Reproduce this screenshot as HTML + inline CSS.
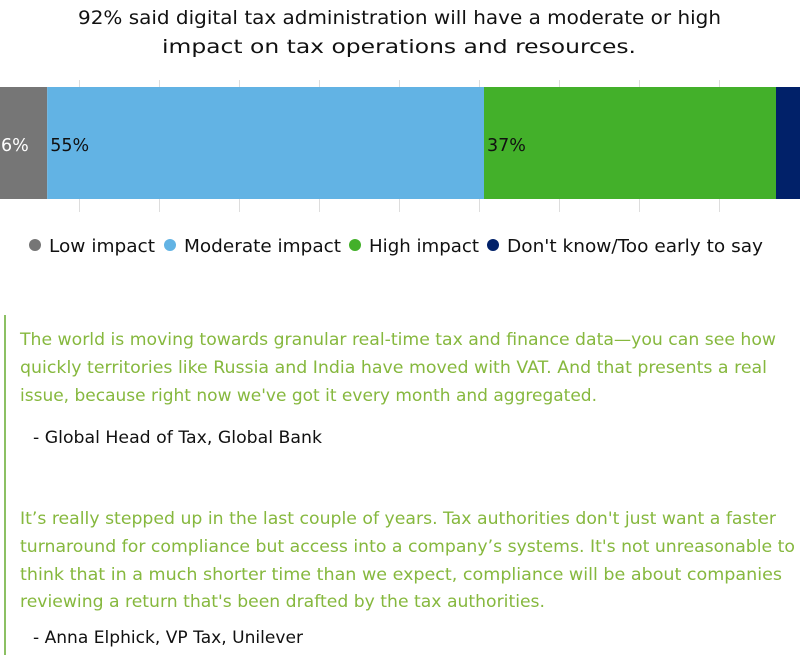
<!DOCTYPE html>
<html><head><meta charset="utf-8"><style>
html,body{margin:0;padding:0;background:#fff;width:800px;height:672px;overflow:hidden}
svg{display:block;font-family:"DejaVu Sans","Liberation Sans",sans-serif}
</style></head><body>
<svg id="chart" width="800" height="672" viewBox="0 0 800 672">
<g font-size="19" fill="#111">
<text x="78" y="24" textLength="643" lengthAdjust="spacingAndGlyphs">92% said digital tax administration will have a moderate or high</text>
<text x="162" y="53" textLength="474" lengthAdjust="spacingAndGlyphs">impact on tax operations and resources.</text>
</g>
<g id="grid"></g>
<g id="bars"></g>
<g id="legend"></g>
<rect x="4" y="315" width="2" height="340" fill="#8cc063"/>
<g font-size="16.5" fill="#86b83e">
<text x="20" y="345" textLength="756" lengthAdjust="spacingAndGlyphs">The world is moving towards granular real-time tax and finance data—you can see how</text>
<text x="20" y="373" textLength="747" lengthAdjust="spacingAndGlyphs">quickly territories like Russia and India have moved with VAT. And that presents a real</text>
<text x="20" y="401" textLength="577" lengthAdjust="spacingAndGlyphs">issue, because right now we've got it every month and aggregated.</text>
</g>
<text x="33" y="443" font-size="16.5" fill="#111" textLength="289" lengthAdjust="spacingAndGlyphs">- Global Head of Tax, Global Bank</text>
<g font-size="16.5" fill="#86b83e">
<text x="20" y="524" textLength="756" lengthAdjust="spacingAndGlyphs">It’s really stepped up in the last couple of years. Tax authorities don't just want a faster</text>
<text x="20" y="552" textLength="775" lengthAdjust="spacingAndGlyphs">turnaround for compliance but access into a company’s systems. It's not unreasonable to</text>
<text x="20" y="580" textLength="762" lengthAdjust="spacingAndGlyphs">think that in a much shorter time than we expect, compliance will be about companies</text>
<text x="20" y="607" textLength="525" lengthAdjust="spacingAndGlyphs">reviewing a return that's been drafted by the tax authorities.</text>
</g>
<text x="33" y="643" font-size="16.5" fill="#111" textLength="270" lengthAdjust="spacingAndGlyphs">- Anna Elphick, VP Tax, Unilever</text>
</svg>
<script>
const categories = ["Low impact", "Moderate impact", "High impact", "Don't know/Too early to say"];
const values = [5.9, 54.6, 36.5, 3.0];
const labels = ["6%", "55%", "37%", ""];
const colors = ["#767676", "#62b3e4", "#43b02a", "#012169"];
const gridTicks = [10, 20, 30, 40, 50, 60, 70, 80, 90];

const NS = "http://www.w3.org/2000/svg";
const xScale = v => v * 8;
const barTop = 87, barH = 112;
function mk(tag, attrs, parent) {
  const e = document.createElementNS(NS, tag);
  for (const k in attrs) e.setAttribute(k, attrs[k]);
  parent.appendChild(e);
  return e;
}
const grid = document.getElementById("grid");
gridTicks.forEach(t => {
  const l = mk("line", {x1: xScale(t) - 0.5, x2: xScale(t) - 0.5, y1: 80, y2: 212, stroke: "#ddd", "stroke-width": 1}, grid);
  
  
});
const bars = document.getElementById("bars");
let acc = 0;
values.forEach((v, i) => {
  const x0 = xScale(acc), w = xScale(v);
  const r = mk("rect", {x: x0, y: barTop, width: w, height: barH, fill: colors[i]}, bars);
  
  
  if (labels[i]) {
    const t = mk("text", {x: i === 0 ? x0 + 1 : x0 + 3, y: 151, "font-size": 17.5, fill: i === 0 ? "#fff" : "#111"}, bars);
    t.textContent = labels[i];
    
    
  }
  acc += v;
});
const legend = document.getElementById("legend");
const legX = [35, 170, 355, 493];
const legW = [106, 157, 110, 256];
categories.forEach((c, i) => {
  const g = mk("g", {}, legend);
  
  
  mk("circle", {cx: legX[i], cy: 245, r: 6, fill: colors[i]}, g);
  const t = mk("text", {x: legX[i] + 14, y: 252, "font-size": 18, fill: "#111", textLength: legW[i], lengthAdjust: "spacingAndGlyphs"}, g);
  t.textContent = c;
});
</script>
</body></html>
